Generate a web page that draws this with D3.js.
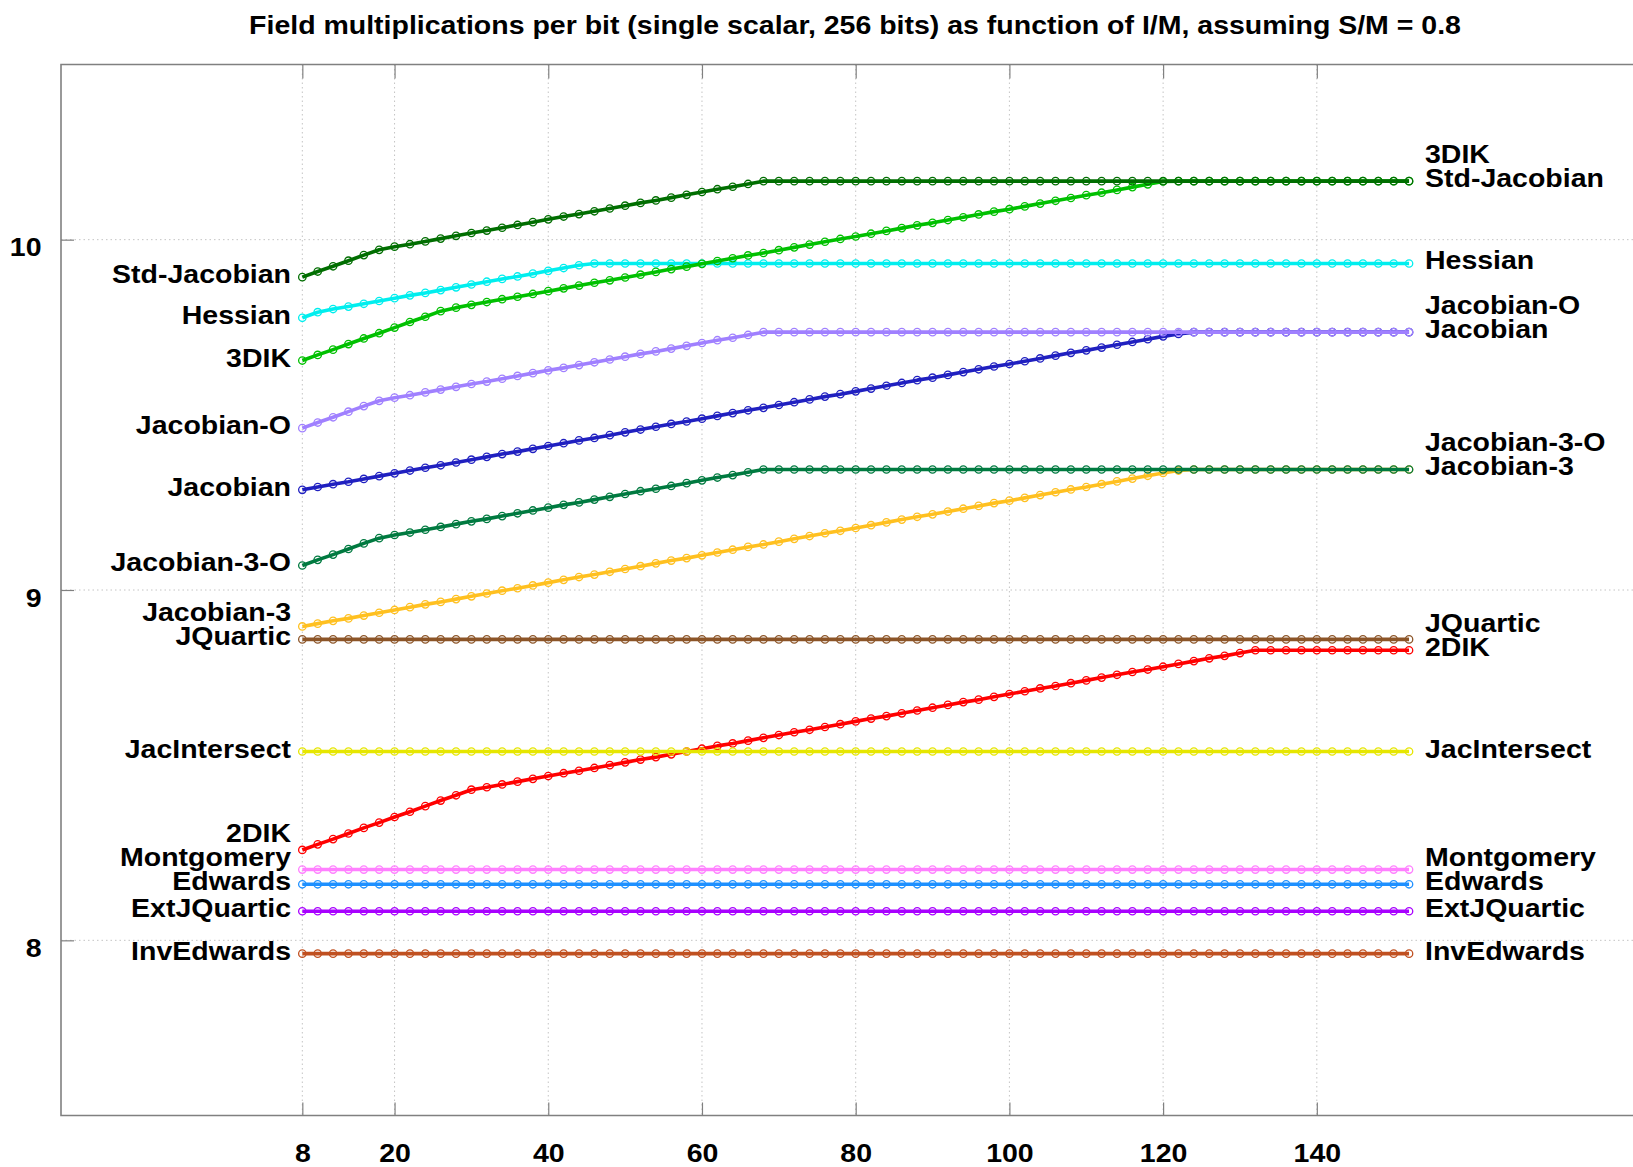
<!DOCTYPE html>
<html>
<head>
<meta charset="utf-8">
<script src="https://cdn.jsdelivr.net/npm/d3@7"></script>
<style>
  html, body { margin: 0; padding: 0; background: #fff; }
  svg { display: block; font-family: "Liberation Sans", Arial, Helvetica, sans-serif; font-weight: bold; }
</style>
</head>
<body>
<svg id="chart" width="1633" height="1167"></svg>
<script>
// I/M ratio (x axis), one point every 2
const imValues = [
  8, 10, 12, 14, 16, 18, 20, 22, 24, 26, 28, 30,
  32, 34, 36, 38, 40, 42, 44, 46, 48, 50, 52, 54,
  56, 58, 60, 62, 64, 66, 68, 70, 72, 74, 76, 78,
  80, 82, 84, 86, 88, 90, 92, 94, 96, 98, 100, 102,
  104, 106, 108, 110, 112, 114, 116, 118, 120, 122, 124, 126,
  128, 130, 132, 134, 136, 138, 140, 142, 144, 146, 148, 150,
  152
];

const stdJacobian = [
  9.893, 9.909, 9.924, 9.940, 9.956, 9.971, 9.980, 9.987, 9.995, 10.003, 10.011, 10.019,
  10.026, 10.034, 10.042, 10.050, 10.058, 10.066, 10.073, 10.081, 10.089, 10.097, 10.105, 10.112,
  10.120, 10.128, 10.136, 10.144, 10.151, 10.159, 10.167, 10.167, 10.167, 10.167, 10.167, 10.167,
  10.167, 10.167, 10.167, 10.167, 10.167, 10.167, 10.167, 10.167, 10.167, 10.167, 10.167, 10.167,
  10.167, 10.167, 10.167, 10.167, 10.167, 10.167, 10.167, 10.167, 10.167, 10.167, 10.167, 10.167,
  10.167, 10.167, 10.167, 10.167, 10.167, 10.167, 10.167, 10.167, 10.167, 10.167, 10.167, 10.167,
  10.167
];

const dik3 = [
  9.655, 9.671, 9.686, 9.702, 9.718, 9.733, 9.749, 9.765, 9.780, 9.796, 9.806, 9.814,
  9.822, 9.830, 9.837, 9.845, 9.853, 9.861, 9.869, 9.877, 9.884, 9.892, 9.900, 9.908,
  9.916, 9.923, 9.931, 9.939, 9.947, 9.955, 9.962, 9.970, 9.978, 9.986, 9.994, 10.002,
  10.009, 10.017, 10.025, 10.033, 10.041, 10.048, 10.056, 10.064, 10.072, 10.080, 10.087, 10.095,
  10.103, 10.111, 10.119, 10.127, 10.134, 10.142, 10.150, 10.158, 10.166, 10.167, 10.167, 10.167,
  10.167, 10.167, 10.167, 10.167, 10.167, 10.167, 10.167, 10.167, 10.167, 10.167, 10.167, 10.167,
  10.167
];

const hessian = [
  9.777, 9.793, 9.802, 9.809, 9.817, 9.825, 9.833, 9.841, 9.848, 9.856, 9.864, 9.872,
  9.880, 9.888, 9.895, 9.903, 9.911, 9.919, 9.927, 9.932, 9.932, 9.932, 9.932, 9.932,
  9.932, 9.932, 9.932, 9.932, 9.932, 9.932, 9.932, 9.932, 9.932, 9.932, 9.932, 9.932,
  9.932, 9.932, 9.932, 9.932, 9.932, 9.932, 9.932, 9.932, 9.932, 9.932, 9.932, 9.932,
  9.932, 9.932, 9.932, 9.932, 9.932, 9.932, 9.932, 9.932, 9.932, 9.932, 9.932, 9.932,
  9.932, 9.932, 9.932, 9.932, 9.932, 9.932, 9.932, 9.932, 9.932, 9.932, 9.932, 9.932,
  9.932
];

const jacobianO = [
  9.462, 9.478, 9.493, 9.509, 9.525, 9.540, 9.549, 9.556, 9.564, 9.572, 9.580, 9.588,
  9.595, 9.603, 9.611, 9.619, 9.627, 9.634, 9.642, 9.650, 9.658, 9.666, 9.674, 9.681,
  9.689, 9.697, 9.705, 9.713, 9.720, 9.728, 9.736, 9.736, 9.736, 9.736, 9.736, 9.736,
  9.736, 9.736, 9.736, 9.736, 9.736, 9.736, 9.736, 9.736, 9.736, 9.736, 9.736, 9.736,
  9.736, 9.736, 9.736, 9.736, 9.736, 9.736, 9.736, 9.736, 9.736, 9.736, 9.736, 9.736,
  9.736, 9.736, 9.736, 9.736, 9.736, 9.736, 9.736, 9.736, 9.736, 9.736, 9.736, 9.736,
  9.736
];

const jacobian = [
  9.286, 9.294, 9.302, 9.309, 9.317, 9.325, 9.333, 9.341, 9.349, 9.356, 9.364, 9.372,
  9.380, 9.388, 9.395, 9.403, 9.411, 9.419, 9.427, 9.434, 9.442, 9.450, 9.458, 9.466,
  9.474, 9.481, 9.489, 9.497, 9.505, 9.513, 9.520, 9.528, 9.536, 9.544, 9.552, 9.559,
  9.567, 9.575, 9.583, 9.591, 9.599, 9.606, 9.614, 9.622, 9.630, 9.638, 9.645, 9.653,
  9.661, 9.669, 9.677, 9.684, 9.692, 9.700, 9.708, 9.716, 9.724, 9.731, 9.736, 9.736,
  9.736, 9.736, 9.736, 9.736, 9.736, 9.736, 9.736, 9.736, 9.736, 9.736, 9.736, 9.736,
  9.736
];

const jacobian3O = [
  9.070, 9.086, 9.101, 9.117, 9.133, 9.148, 9.157, 9.164, 9.172, 9.180, 9.188, 9.196,
  9.203, 9.211, 9.219, 9.227, 9.235, 9.243, 9.250, 9.258, 9.266, 9.274, 9.282, 9.289,
  9.297, 9.305, 9.313, 9.321, 9.328, 9.336, 9.344, 9.344, 9.344, 9.344, 9.344, 9.344,
  9.344, 9.344, 9.344, 9.344, 9.344, 9.344, 9.344, 9.344, 9.344, 9.344, 9.344, 9.344,
  9.344, 9.344, 9.344, 9.344, 9.344, 9.344, 9.344, 9.344, 9.344, 9.344, 9.344, 9.344,
  9.344, 9.344, 9.344, 9.344, 9.344, 9.344, 9.344, 9.344, 9.344, 9.344, 9.344, 9.344,
  9.344
];

const jacobian3 = [
  8.896, 8.904, 8.912, 8.919, 8.927, 8.935, 8.943, 8.951, 8.959, 8.966, 8.974, 8.982,
  8.990, 8.998, 9.005, 9.013, 9.021, 9.029, 9.037, 9.044, 9.052, 9.060, 9.068, 9.076,
  9.084, 9.091, 9.099, 9.107, 9.115, 9.123, 9.130, 9.138, 9.146, 9.154, 9.162, 9.169,
  9.177, 9.185, 9.193, 9.201, 9.209, 9.216, 9.224, 9.232, 9.240, 9.248, 9.255, 9.263,
  9.271, 9.279, 9.287, 9.294, 9.302, 9.310, 9.318, 9.326, 9.334, 9.341, 9.344, 9.344,
  9.344, 9.344, 9.344, 9.344, 9.344, 9.344, 9.344, 9.344, 9.344, 9.344, 9.344, 9.344,
  9.344
];

const jQuartic = [
  8.859, 8.859, 8.859, 8.859, 8.859, 8.859, 8.859, 8.859, 8.859, 8.859, 8.859, 8.859,
  8.859, 8.859, 8.859, 8.859, 8.859, 8.859, 8.859, 8.859, 8.859, 8.859, 8.859, 8.859,
  8.859, 8.859, 8.859, 8.859, 8.859, 8.859, 8.859, 8.859, 8.859, 8.859, 8.859, 8.859,
  8.859, 8.859, 8.859, 8.859, 8.859, 8.859, 8.859, 8.859, 8.859, 8.859, 8.859, 8.859,
  8.859, 8.859, 8.859, 8.859, 8.859, 8.859, 8.859, 8.859, 8.859, 8.859, 8.859, 8.859,
  8.859, 8.859, 8.859, 8.859, 8.859, 8.859, 8.859, 8.859, 8.859, 8.859, 8.859, 8.859,
  8.859
];

const dik2 = [
  8.258, 8.274, 8.289, 8.305, 8.321, 8.336, 8.352, 8.367, 8.383, 8.399, 8.414, 8.430,
  8.437, 8.445, 8.453, 8.461, 8.469, 8.477, 8.484, 8.492, 8.500, 8.508, 8.516, 8.523,
  8.531, 8.539, 8.547, 8.555, 8.562, 8.570, 8.578, 8.586, 8.594, 8.601, 8.609, 8.617,
  8.625, 8.633, 8.640, 8.648, 8.656, 8.664, 8.672, 8.680, 8.687, 8.695, 8.703, 8.711,
  8.719, 8.726, 8.734, 8.742, 8.750, 8.758, 8.766, 8.773, 8.781, 8.789, 8.797, 8.805,
  8.812, 8.820, 8.828, 8.828, 8.828, 8.828, 8.828, 8.828, 8.828, 8.828, 8.828, 8.828,
  8.828
];

const jacIntersect = [
  8.539, 8.539, 8.539, 8.539, 8.539, 8.539, 8.539, 8.539, 8.539, 8.539, 8.539, 8.539,
  8.539, 8.539, 8.539, 8.539, 8.539, 8.539, 8.539, 8.539, 8.539, 8.539, 8.539, 8.539,
  8.539, 8.539, 8.539, 8.539, 8.539, 8.539, 8.539, 8.539, 8.539, 8.539, 8.539, 8.539,
  8.539, 8.539, 8.539, 8.539, 8.539, 8.539, 8.539, 8.539, 8.539, 8.539, 8.539, 8.539,
  8.539, 8.539, 8.539, 8.539, 8.539, 8.539, 8.539, 8.539, 8.539, 8.539, 8.539, 8.539,
  8.539, 8.539, 8.539, 8.539, 8.539, 8.539, 8.539, 8.539, 8.539, 8.539, 8.539, 8.539,
  8.539
];

const montgomery = [
  8.202, 8.202, 8.202, 8.202, 8.202, 8.202, 8.202, 8.202, 8.202, 8.202, 8.202, 8.202,
  8.202, 8.202, 8.202, 8.202, 8.202, 8.202, 8.202, 8.202, 8.202, 8.202, 8.202, 8.202,
  8.202, 8.202, 8.202, 8.202, 8.202, 8.202, 8.202, 8.202, 8.202, 8.202, 8.202, 8.202,
  8.202, 8.202, 8.202, 8.202, 8.202, 8.202, 8.202, 8.202, 8.202, 8.202, 8.202, 8.202,
  8.202, 8.202, 8.202, 8.202, 8.202, 8.202, 8.202, 8.202, 8.202, 8.202, 8.202, 8.202,
  8.202, 8.202, 8.202, 8.202, 8.202, 8.202, 8.202, 8.202, 8.202, 8.202, 8.202, 8.202,
  8.202
];

const edwards = [
  8.160, 8.160, 8.160, 8.160, 8.160, 8.160, 8.160, 8.160, 8.160, 8.160, 8.160, 8.160,
  8.160, 8.160, 8.160, 8.160, 8.160, 8.160, 8.160, 8.160, 8.160, 8.160, 8.160, 8.160,
  8.160, 8.160, 8.160, 8.160, 8.160, 8.160, 8.160, 8.160, 8.160, 8.160, 8.160, 8.160,
  8.160, 8.160, 8.160, 8.160, 8.160, 8.160, 8.160, 8.160, 8.160, 8.160, 8.160, 8.160,
  8.160, 8.160, 8.160, 8.160, 8.160, 8.160, 8.160, 8.160, 8.160, 8.160, 8.160, 8.160,
  8.160, 8.160, 8.160, 8.160, 8.160, 8.160, 8.160, 8.160, 8.160, 8.160, 8.160, 8.160,
  8.160
];

const extJQuartic = [
  8.083, 8.083, 8.083, 8.083, 8.083, 8.083, 8.083, 8.083, 8.083, 8.083, 8.083, 8.083,
  8.083, 8.083, 8.083, 8.083, 8.083, 8.083, 8.083, 8.083, 8.083, 8.083, 8.083, 8.083,
  8.083, 8.083, 8.083, 8.083, 8.083, 8.083, 8.083, 8.083, 8.083, 8.083, 8.083, 8.083,
  8.083, 8.083, 8.083, 8.083, 8.083, 8.083, 8.083, 8.083, 8.083, 8.083, 8.083, 8.083,
  8.083, 8.083, 8.083, 8.083, 8.083, 8.083, 8.083, 8.083, 8.083, 8.083, 8.083, 8.083,
  8.083, 8.083, 8.083, 8.083, 8.083, 8.083, 8.083, 8.083, 8.083, 8.083, 8.083, 8.083,
  8.083
];

const invEdwards = [
  7.962, 7.962, 7.962, 7.962, 7.962, 7.962, 7.962, 7.962, 7.962, 7.962, 7.962, 7.962,
  7.962, 7.962, 7.962, 7.962, 7.962, 7.962, 7.962, 7.962, 7.962, 7.962, 7.962, 7.962,
  7.962, 7.962, 7.962, 7.962, 7.962, 7.962, 7.962, 7.962, 7.962, 7.962, 7.962, 7.962,
  7.962, 7.962, 7.962, 7.962, 7.962, 7.962, 7.962, 7.962, 7.962, 7.962, 7.962, 7.962,
  7.962, 7.962, 7.962, 7.962, 7.962, 7.962, 7.962, 7.962, 7.962, 7.962, 7.962, 7.962,
  7.962, 7.962, 7.962, 7.962, 7.962, 7.962, 7.962, 7.962, 7.962, 7.962, 7.962, 7.962,
  7.962
];

// Legend order (top to bottom of the right-hand labels)
const seriesNames = [
  '3DIK', 'Std-Jacobian', 'Hessian', 'Jacobian-O', 'Jacobian', 'Jacobian-3-O', 'Jacobian-3',
  'JQuartic', '2DIK', 'JacIntersect', 'Montgomery', 'Edwards', 'ExtJQuartic', 'InvEdwards'
];
const seriesValues = {
  '3DIK': dik3, 'Std-Jacobian': stdJacobian, 'Hessian': hessian, 'Jacobian-O': jacobianO,
  'Jacobian': jacobian, 'Jacobian-3-O': jacobian3O, 'Jacobian-3': jacobian3, 'JQuartic': jQuartic,
  '2DIK': dik2, 'JacIntersect': jacIntersect, 'Montgomery': montgomery, 'Edwards': edwards,
  'ExtJQuartic': extJQuartic, 'InvEdwards': invEdwards
};
// Later entries are painted on top
const drawOrder = [
  'InvEdwards', 'ExtJQuartic', 'Edwards', 'Montgomery', '2DIK', 'JacIntersect', 'JQuartic',
  'Jacobian-3', 'Jacobian-3-O', 'Jacobian', 'Jacobian-O', 'Hessian', '3DIK', 'Std-Jacobian'
];

const xTicks = [8, 20, 40, 60, 80, 100, 120, 140];
const yTicks = [8, 9, 10];
const title = 'Field multiplications per bit (single scalar, 256 bits) as function of I/M, assuming S/M = 0.8';

const color = d3.scaleOrdinal()
  .domain(seriesNames)
  .range(['#00c000', '#006e00', '#00eeee', '#a080ff', '#2020c0', '#007a40', '#ffc020',
          '#8c5528', '#ff0000', '#e6e600', '#ff80ff', '#1e90ff', '#a800ff', '#c05020']);

// Layout
const plot = { left: 61, right: 1640, top: 64.5, bottom: 1115.5 };
const FONT = 25;
const STRETCH = 1.14;     // the original text is a little wider than Liberation Sans
const LABEL_GAP = 24.3;
const FRAME = '#808080';

const x = d3.scaleLinear().domain([-23.4, 182.05]).range([plot.left, plot.right]);
const y = d3.scaleLinear().domain([7.5, 10.5]).range([plot.bottom, plot.top]);

const svg = d3.select('#chart');

// Grid
const grid = svg.append('g')
  .attr('stroke', '#c4c4c4')
  .attr('stroke-width', 1)
  .attr('stroke-dasharray', '1.5,3');

grid.selectAll('.gx').data(xTicks).join('line')
  .attr('class', 'gx')
  .attr('x1', d => x(d)).attr('x2', d => x(d))
  .attr('y1', plot.top).attr('y2', plot.bottom);

grid.selectAll('.gy').data(yTicks).join('line')
  .attr('class', 'gy')
  .attr('x1', plot.left).attr('x2', plot.right)
  .attr('y1', d => y(d)).attr('y2', d => y(d));

// Axes (ticks point inward, like gnuplot)
function styleAxis(g) {
  g.attr('font-size', null).attr('font-family', null);
  g.select('.domain').remove();
  g.selectAll('.tick line').attr('stroke', FRAME).attr('stroke-width', 1.2);
  g.selectAll('.tick text').attr('fill', '#000').attr('font-size', FONT);
}

const xAxis = svg.append('g')
  .attr('transform', `translate(0,${plot.bottom})`)
  .call(d3.axisBottom(x).tickValues(xTicks).tickSizeInner(-13).tickSizeOuter(0))
  .call(styleAxis);
xAxis.selectAll('.tick text')
  .attr('y', 0).attr('dy', null)
  .attr('transform', `translate(0,46) scale(${STRETCH},1)`);

svg.append('g')
  .attr('transform', `translate(0,${plot.top})`)
  .call(d3.axisTop(x).tickValues(xTicks).tickSizeInner(-14).tickSizeOuter(0).tickFormat(''))
  .call(styleAxis);

const yAxis = svg.append('g')
  .attr('transform', `translate(${plot.left},0)`)
  .call(d3.axisLeft(y).tickValues(yTicks).tickSizeInner(-13).tickSizeOuter(0).tickFormat(d3.format('d')))
  .call(styleAxis);
yAxis.selectAll('.tick text')
  .attr('x', 0).attr('dy', null)
  .attr('transform', `translate(-19.5,16) scale(${STRETCH},1)`);

// Frame (right side runs off the picture)
svg.append('path')
  .attr('d', `M${plot.right},${plot.top}H${plot.left}V${plot.bottom}H${plot.right}`)
  .attr('fill', 'none')
  .attr('stroke', FRAME)
  .attr('stroke-width', 1.6);

// Series
const line = d3.line()
  .x((d, i) => x(imValues[i]))
  .y(d => y(d));

const seriesG = svg.append('g');
drawOrder.forEach(name => {
  const values = seriesValues[name];
  const g = seriesG.append('g');
  g.append('path')
    .datum(values)
    .attr('d', line)
    .attr('fill', 'none')
    .attr('stroke', color(name))
    .attr('stroke-width', 3.6)
    .attr('stroke-linejoin', 'round');
  g.selectAll('circle')
    .data(values)
    .join('circle')
    .attr('cx', (d, i) => x(imValues[i]))
    .attr('cy', d => y(d))
    .attr('r', 3.7)
    .attr('fill', 'none')
    .attr('stroke', color(name))
    .attr('stroke-width', 1.3);
});

// End labels: stacked from the bottom up so they do not collide
function stackLabels(items) {
  const sorted = items.slice().sort((a, b) =>
    b.base - a.base || seriesNames.indexOf(b.name) - seriesNames.indexOf(a.name));
  let prev = Infinity;
  sorted.forEach(d => {
    d.base = Math.min(d.base, prev - LABEL_GAP);
    prev = d.base;
  });
  return sorted;
}

function addText(px, py, text, anchor) {
  svg.append('text')
    .attr('transform', `translate(${px},${py}) scale(${STRETCH},1)`)
    .attr('text-anchor', anchor)
    .attr('font-size', FONT)
    .attr('fill', '#000')
    .text(text);
}

const leftLabels = stackLabels(seriesNames.map(name => ({
  name, base: y(seriesValues[name][0]) + 6
})));
leftLabels.forEach(d => addText(291, d.base, d.name, 'end'));

const rightLabels = stackLabels(seriesNames.map(name => ({
  name, base: y(seriesValues[name][imValues.length - 1]) + 6
})));
rightLabels.forEach(d => addText(1425, d.base, d.name, 'start'));

// Title
addText(855, 33.5, title, 'middle');
</script>
</body>
</html>
